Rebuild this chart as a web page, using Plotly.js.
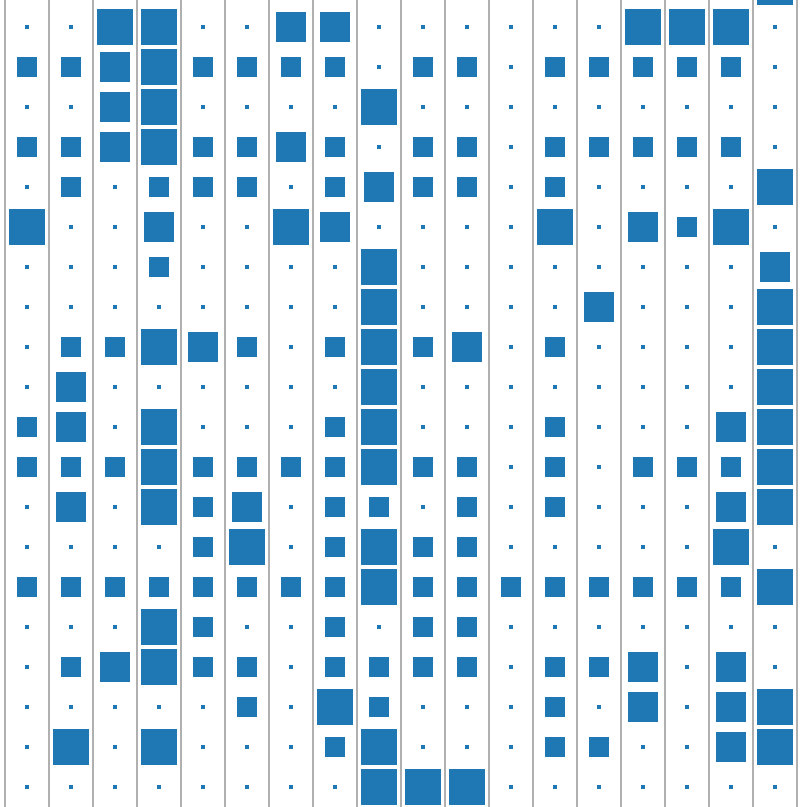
<!DOCTYPE html>
<html>
<head>
<meta charset="utf-8">
<script src="https://cdn.plot.ly/plotly-3.0.1.min.js"></script>
<style>
  html, body { margin: 0; padding: 0; background: #ffffff; }
  #chart { width: 807px; height: 807px; }
</style>
</head>
<body>
<div id="chart"></div>
<script>
// Level per cell (0 = tiny, 1 = small, 2 = medium, 3 = large), 18 columns per row
const rowIds = [-1, 0, 1, 2, 3, 4, 5, 6, 7, 8, 9, 10, 11, 12, 13, 14, 15, 16, 17, 18, 19];
const row_m1 = [0,0,0,0,0,0,0,0,0,0,0,0,0,0,0,0,0,3];
const row_00 = [0,0,3,3,0,0,2,2,0,0,0,0,0,0,3,3,3,0];
const row_01 = [1,1,2,3,1,1,1,1,0,1,1,0,1,1,1,1,1,0];
const row_02 = [0,0,2,3,0,0,0,0,3,0,0,0,0,0,0,0,0,0];
const row_03 = [1,1,2,3,1,1,2,1,0,1,1,0,1,1,1,1,1,0];
const row_04 = [0,1,0,1,1,1,0,1,2,1,1,0,1,0,0,0,0,3];
const row_05 = [3,0,0,2,0,0,3,2,0,0,0,0,3,0,2,1,3,0];
const row_06 = [0,0,0,1,0,0,0,0,3,0,0,0,0,0,0,0,0,2];
const row_07 = [0,0,0,0,0,0,0,0,3,0,0,0,0,2,0,0,0,3];
const row_08 = [0,1,1,3,2,1,0,1,3,1,2,0,1,0,0,0,0,3];
const row_09 = [0,2,0,0,0,0,0,0,3,0,0,0,0,0,0,0,0,3];
const row_10 = [1,2,0,3,0,0,0,1,3,0,0,0,1,0,0,0,2,3];
const row_11 = [1,1,1,3,1,1,1,1,3,1,1,0,1,0,1,1,1,3];
const row_12 = [0,2,0,3,1,2,0,1,1,0,1,0,1,0,0,0,2,3];
const row_13 = [0,0,0,0,1,3,0,1,3,1,1,0,0,0,0,0,3,0];
const row_14 = [1,1,1,1,1,1,1,1,3,1,1,1,1,1,1,1,1,3];
const row_15 = [0,0,0,3,1,0,0,1,0,1,1,0,0,0,0,0,0,0];
const row_16 = [0,1,2,3,1,1,0,1,1,1,1,0,1,1,2,0,2,0];
const row_17 = [0,0,0,0,0,1,0,3,1,0,0,0,1,0,2,0,2,3];
const row_18 = [0,3,0,3,0,0,0,1,3,0,0,0,1,1,0,0,2,3];
const row_19 = [0,0,0,0,0,0,0,0,3,3,3,0,0,0,0,0,0,0];

const rows = [row_m1,row_00,row_01,row_02,row_03,row_04,row_05,row_06,row_07,row_08,row_09,
              row_10,row_11,row_12,row_13,row_14,row_15,row_16,row_17,row_18,row_19];

// style: marker pixel size per level
const levelSize = [4, 20, 30, 36];

const xs = [], ys = [], ss = [];
rows.forEach((r, ri) => {
  r.forEach((lv, ci) => {
    xs.push(ci);
    ys.push(rowIds[ri]);
    ss.push(levelSize[lv]);
  });
});

const W = 807, H = 807;
const pxPerCol = 44, pxPerRow = 40, firstCenterX = 27, firstCenterY = 27;

const trace = {
  type: 'scatter',
  mode: 'markers',
  x: xs, y: ys,
  marker: { symbol: 'square', size: ss, color: '#1f77b4', opacity: 1, line: { width: 0 } },
  hoverinfo: 'skip',
  showlegend: false
};

const layout = {
  width: W, height: H,
  margin: { l: 0, r: 0, t: 0, b: 0, pad: 0 },
  paper_bgcolor: '#ffffff',
  plot_bgcolor: '#ffffff',
  xaxis: {
    range: [-firstCenterX / pxPerCol, (W - firstCenterX) / pxPerCol],
    tickmode: 'linear', tick0: -0.5, dtick: 1,
    showgrid: true, gridcolor: '#b0b0b0', gridwidth: 2,
    showticklabels: false, ticks: '', zeroline: false, showline: false
  },
  yaxis: {
    range: [(H - firstCenterY) / pxPerRow, -firstCenterY / pxPerRow],
    showgrid: false, showticklabels: false, ticks: '', zeroline: false, showline: false
  }
};

Plotly.newPlot('chart', [trace], layout, { staticPlot: true, displayModeBar: false });
</script>
</body>
</html>
